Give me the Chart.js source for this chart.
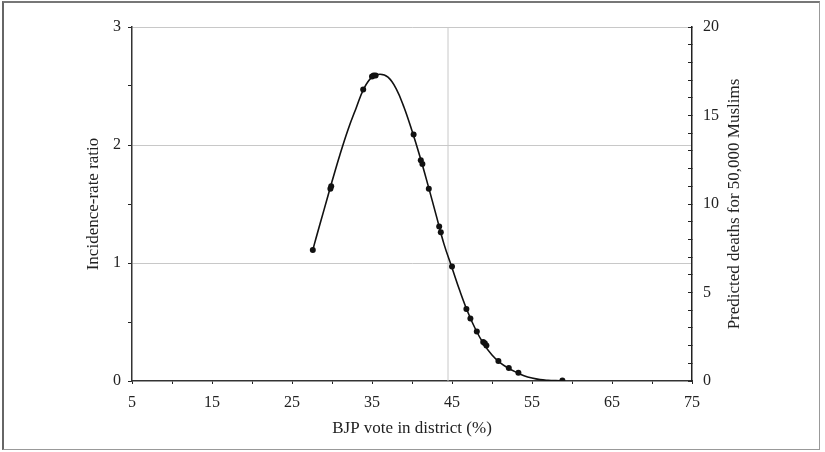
<!DOCTYPE html>
<html>
<head>
<meta charset="utf-8">
<script src="https://cdn.jsdelivr.net/npm/chart.js@4"></script>
<style>
    html, body { margin: 0; padding: 0; background: #fff; }
    #wrap { position: relative; width: 825px; height: 452px; }
    #frame {
        position: absolute; left: 2px; top: 1px; width: 815px; height: 446px;
        border: 1px solid #999; border-left: 2px solid #666; border-top: 2px solid #777;
        pointer-events: none;
    }
</style>
</head>
<body>
<div id="wrap">
    <canvas id="chart" width="825" height="452"></canvas>
    <div id="frame"></div>
</div>
<script>
// fitted curve
const curveVote = [27.6, 28, 29, 30, 31, 32, 33, 34, 35, 36, 37, 38, 39, 40, 41, 42, 43, 44, 45, 46,
    47, 48, 49, 50, 51, 52, 53, 54, 55, 56, 57, 58, 58.8];
const curveIRR = [1.11, 1.21, 1.45, 1.69, 1.92, 2.13, 2.31, 2.48, 2.575, 2.60, 2.575, 2.48, 2.32, 2.12, 1.90, 1.66,
    1.41, 1.16, 0.96, 0.76, 0.58, 0.43, 0.31, 0.22, 0.155, 0.11, 0.075, 0.045, 0.025, 0.012, 0.006, 0.003, 0.002];

// district markers
const markerVote = [27.6, 29.8, 29.9, 33.9, 35.0, 35.2, 35.45, 40.2, 41.1, 41.3, 42.1, 43.4, 43.6, 45.0,
    46.8, 47.3, 48.1, 48.9, 49.1, 49.3, 50.8, 52.1, 53.3, 58.8];
const markerIRR = [1.11, 1.63, 1.65, 2.47, 2.58, 2.59, 2.59, 2.09, 1.87, 1.84, 1.63, 1.31, 1.26, 0.97,
    0.61, 0.53, 0.42, 0.33, 0.32, 0.30, 0.17, 0.11, 0.07, 0.005];

const refVote = 44.5;
const xTickLabels = [5, 15, 25, 35, 45, 55, 65, 75];
const rightTickLabels = [0, 5, 10, 15, 20];
const rightTitle = "Predicted deaths for 50,000 Muslims";

const serif = "'Liberation Serif', 'Times New Roman', serif";
const ink = "#222";
const gridGrey = "#c8c8c8";
const tickFont = {family: serif, size: 16};
const titleFont = {family: serif, size: 17};

function toPoints(xs, ys) {
    return xs.map((x, i) => ({x: x, y: ys[i]}));
}

// right axis title reads bottom-to-top like the left one
let rightTitlePlugin = {
    id: "rightTitle",
    afterDraw: (chart) => {
        const {ctx, chartArea: {top, bottom}, scales: {y2}} = chart;
        ctx.save();
        ctx.translate(y2.left + 43, (top + bottom) / 2);
        ctx.rotate(-Math.PI / 2);
        ctx.font = titleFont.size + "px " + serif;
        ctx.fillStyle = ink;
        ctx.textAlign = "center";
        ctx.textBaseline = "middle";
        ctx.fillText(rightTitle, 0, 0);
        ctx.restore();
    }
};

let datasets = [
    {
        data: toPoints(markerVote, markerIRR),
        showLine: false,
        pointRadius: 3,
        pointBackgroundColor: "#111",
        pointBorderColor: "#111",
        pointBorderWidth: 0,
        order: 1
    },
    {
        data: toPoints(curveVote, curveIRR),
        showLine: true,
        borderColor: "#111",
        borderWidth: 1.6,
        pointRadius: 0,
        tension: 0.4,
        order: 2
    },
    {
        data: [{x: refVote, y: 0}, {x: refVote, y: 3}],
        showLine: true,
        borderColor: gridGrey,
        borderWidth: 1,
        pointRadius: 0,
        order: 3
    }
];

let scalesOptions = {
    x: {
        type: "linear",
        min: 5,
        max: 75,
        afterFit: (s) => { s.height = 71; },
        border: {color: "#333", width: 1.5},
        grid: {color: "transparent", tickColor: ink, tickLength: 3},
        ticks: {
            stepSize: 5,
            autoSkip: false,
            maxRotation: 0,
            padding: 9,
            color: ink,
            font: tickFont,
            callback: (v) => xTickLabels.includes(v) ? String(v) : ""
        },
        title: {
            display: true,
            text: "BJP vote in district (%)",
            color: ink,
            font: titleFont,
            padding: {top: 0, bottom: 13}
        }
    },
    y: {
        position: "left",
        min: 0,
        max: 3,
        afterFit: (s) => { s.width = 132; },
        border: {color: "#333", width: 1.5},
        grid: {
            color: (c) => (c.tick && c.tick.value > 0 && Number.isInteger(c.tick.value)) ? gridGrey : "transparent",
            tickColor: ink,
            tickLength: 4
        },
        ticks: {
            stepSize: 0.5,
            autoSkip: false,
            padding: 7,
            color: ink,
            font: tickFont,
            callback: (v) => Number.isInteger(v) ? String(v) : ""
        },
        title: {
            display: true,
            text: "Incidence-rate ratio",
            color: ink,
            font: titleFont,
            padding: {top: 83, bottom: 0}
        }
    },
    y2: {
        position: "right",
        min: 0,
        max: 20,
        afterFit: (s) => { s.width = 133; },
        border: {color: "#222", width: 1.5},
        grid: {drawOnChartArea: false, color: "transparent", tickColor: ink, tickLength: -4},
        ticks: {
            stepSize: 1,
            autoSkip: false,
            padding: 15,
            color: ink,
            font: tickFont,
            callback: (v) => rightTickLabels.includes(v) ? String(v) : ""
        }
    }
};

new Chart(document.getElementById("chart"), {
    type: "scatter",
    data: {datasets: datasets},
    options: {
        responsive: false,
        animation: false,
        layout: {padding: {top: 27, left: 0, right: 0, bottom: 0}},
        plugins: {legend: {display: false}, tooltip: {enabled: false}},
        scales: scalesOptions
    },
    plugins: [rightTitlePlugin]
});
</script>
</body>
</html>
